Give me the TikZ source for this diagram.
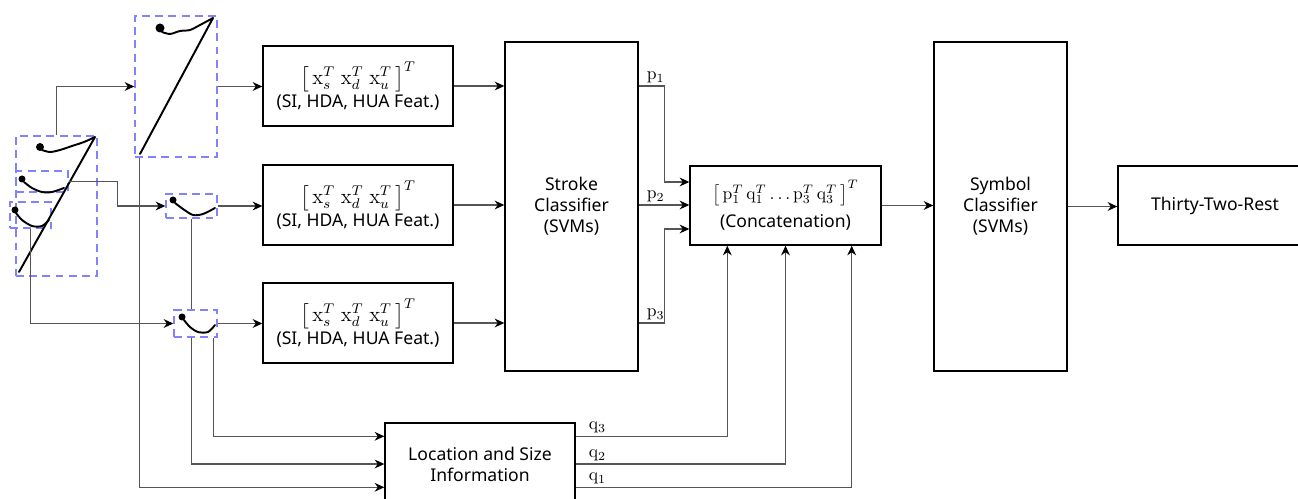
\documentclass[tikz,border=0pt]{standalone}
\usepackage{fontspec}
\newfontfamily\labfont{Noto Sans}
\usepackage{amsmath}
\definecolor{strokeBlue}{RGB}{130,130,250}
\definecolor{wireGray}{RGB}{85,85,85}
\usetikzlibrary{arrows.meta,positioning,calc}

\begin{document}
\begin{tikzpicture}[x=0.2mm, y=-0.2mm,
    blk/.style={rectangle, draw, line width=0.8pt, align=center, inner sep=2pt,
                font=\labfont\fontsize{10}{12}\selectfont},
    sbox/.style={rectangle, draw=strokeBlue, line width=0.8pt,
                 dash pattern=on 4.5pt off 3pt, inner sep=0pt},
    ink/.style={line width=1.1pt, line cap=round, line join=round},
    wire/.style={draw=wireGray, line width=0.6pt,
                 -{Stealth[length=5.5pt,width=5pt,inset=1.8pt,color=black]}},
    wireplain/.style={draw=wireGray, line width=0.6pt},
    lbl/.style={inner sep=1.5pt}
  ]
  \clip (0,0) rectangle (1298,499);

  % stroke boxes
  \node[sbox, minimum width=16.2mm, minimum height=28mm]  (whole) at (56.5,206) {};
  \node[sbox, minimum width=10.4mm, minimum height=4.2mm] (sb1)   at (42,181.5) {};
  \node[sbox, minimum width=8.2mm,  minimum height=5.2mm] (sb2)   at (30.5,215) {};
  \node[sbox, minimum width=16.4mm, minimum height=28.2mm] (big)  at (176,86.5) {};
  \node[sbox, minimum width=10.2mm, minimum height=4.8mm] (mid)   at (191.5,206) {};
  \node[sbox, minimum width=8.6mm,  minimum height=5.4mm] (low)   at (195.5,323.5) {};

  % handwriting
  \draw[ink] plot[smooth] coordinates {(42,150) (50,152) (60,150) (72,146) (84,142) (95,137)} -- (19,272);
  \fill (40,147) circle (4);
  \draw[ink] plot[smooth] coordinates {(24,182) (32,188) (42,192) (52,192) (64,188)};
  \fill (22,179) circle (3.5);
  \draw[ink] plot[smooth] coordinates {(16,213) (22,220) (32,226) (42,226) (49,220)};
  \fill (15,210) circle (3.5);
  \draw[ink] plot[smooth] coordinates {(162,32) (170,34) (180,31) (190,30) (200,25) (213,18)} -- (140,154);
  \fill (160,28) circle (4.5);
  \draw[ink] plot[smooth] coordinates {(175,203) (183,209) (193,215) (203,214) (215,208)};
  \fill (173,200) circle (3.5);
  \draw[ink] plot[smooth] coordinates {(184,320) (190,327) (198,332) (208,332) (215,325)};
  \fill (182,317) circle (3.5);

  % blocks
  \node[blk, minimum width=38mm, minimum height=16mm] (f1) at (358,86)
    {\large$\bigl[\,\mathrm{x}_s^T\;\mathrm{x}_d^T\;\mathrm{x}_u^T\,\bigr]^T$\\[1pt]\normalsize(SI, HDA, HUA Feat.)};
  \node[blk, minimum width=38mm, minimum height=16mm] (f2) at (358,205)
    {\large$\bigl[\,\mathrm{x}_s^T\;\mathrm{x}_d^T\;\mathrm{x}_u^T\,\bigr]^T$\\[1pt]\normalsize(SI, HDA, HUA Feat.)};
  \node[blk, minimum width=38mm, minimum height=16mm] (f3) at (358,323)
    {\large$\bigl[\,\mathrm{x}_s^T\;\mathrm{x}_d^T\;\mathrm{x}_u^T\,\bigr]^T$\\[1pt]\normalsize(SI, HDA, HUA Feat.)};
  \node[blk, minimum width=26.6mm, minimum height=65.8mm] (sc) at (571.5,206.5)
    {Stroke\\Classifier\\(SVMs)};
  \node[blk, minimum width=38.2mm, minimum height=15.8mm] (cat) at (785.5,205.5)
    {$\bigl[\,\mathrm{p}_1^T\,\mathrm{q}_1^T\ldots\mathrm{p}_3^T\,\mathrm{q}_3^T\,\bigr]^T$\\[4pt](Concatenation)};
  \node[blk, minimum width=26.6mm, minimum height=65.8mm] (sym) at (1000.5,206.5)
    {Symbol\\Classifier\\(SVMs)};
  \node[blk, minimum width=38.8mm, minimum height=15.8mm] (rest) at (1215,205.5)
    {Thirty-Two-Rest};
  \node[blk, minimum width=38mm, minimum height=16.4mm] (loc) at (480,464)
    {Location and Size\\Information};

  % stroke splitting
  \draw[wire] (whole.north) |- (big.west);
  \draw[wire] (sb1.east) -- ++(49,0) |- (mid.west);
  \draw[wire] (sb2.south) |- (low.west);
  \draw[wire] (big.east) -- (big.east -| f1.west);
  \draw[wire] (mid.east) -- (mid.east -| f2.west);
  \draw[wire] (low.east) -- (low.east -| f3.west);

  % features to stroke classifier
  \draw[wire] (f1.east) -- (f1.east -| sc.west);
  \draw[wire] (f2.east) -- (f2.east -| sc.west);
  \draw[wire] (f3.east) -- (f3.east -| sc.west);

  % location and size inputs
  \draw[wire] ($(big.south west)+(5,0)$) |- ($(loc.north west)+(0,65)$);
  \draw[wireplain] (mid.south) -- (mid.south |- low.north);
  \draw[wire] (mid.south |- low.south) |- (loc.west);
  \draw[wire] ($(low.south east)+(-4,0)$) |- ($(loc.north west)+(0,14)$);

  % p outputs
  \draw[wire] (f1.east -| sc.east) node[lbl, above right, xshift=1mm] {$\mathrm{p}_1$}
    -- ++(26,0) |- ($(cat.west)+(0,-23.5)$);
  \draw[wire] (f2.east -| sc.east) node[lbl, above right, xshift=1mm] {$\mathrm{p}_2$}
    -- (f2.east -| cat.west);
  \draw[wire] (f3.east -| sc.east) node[lbl, above right, xshift=1mm] {$\mathrm{p}_3$}
    -- ++(26,0) |- ($(cat.west)+(0,23.5)$);

  % q outputs
  \draw[wire] ($(loc.north east)+(0,14)$) node[lbl, above right, xshift=2mm] {$\mathrm{q}_3$}
    -| ($(cat.south west)+(38,0)$);
  \draw[wire] (loc.east) node[lbl, above right, xshift=2mm] {$\mathrm{q}_2$}
    -| (cat.south);
  \draw[wire] ($(loc.north east)+(0,65)$) node[lbl, above right, xshift=2mm] {$\mathrm{q}_1$}
    -| ($(cat.south east)+(-30,0)$);

  \draw[wire] (cat.east) -- (cat.east -| sym.west);
  \draw[wire] (sym.east) -- (sym.east -| rest.west);
\end{tikzpicture}
\end{document}
